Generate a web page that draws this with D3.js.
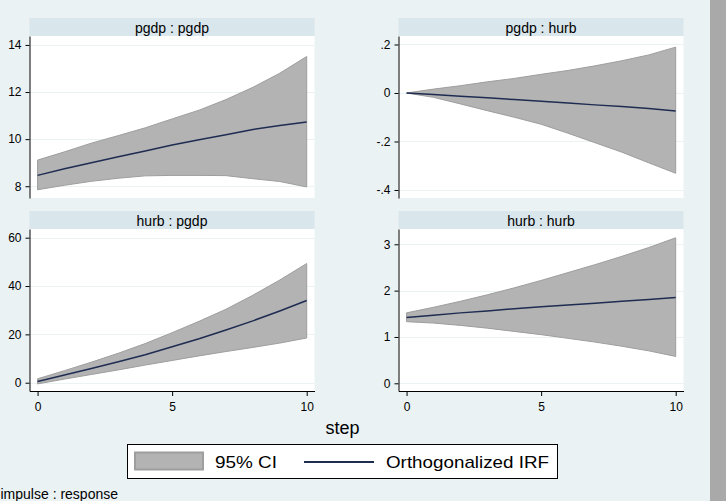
<!DOCTYPE html>
<html>
<head>
<meta charset="utf-8">
<script src="https://cdn.jsdelivr.net/npm/d3@7"></script>
<style>
  html, body { margin: 0; padding: 0; background: #eaf2f3; }
  svg { display: block; }
  text { font-family: "Liberation Sans", Arial, sans-serif; fill: #000; }
</style>
</head>
<body>
<svg id="chart" width="726" height="501"></svg>
<script>
// ---------------- data ----------------
const steps = [0, 1, 2, 3, 4, 5, 6, 7, 8, 9, 10];

const panelTitles = ["pgdp : pgdp", "pgdp : hurb", "hurb : pgdp", "hurb : hurb"];

// pgdp : pgdp
const irfPgdpPgdp   = [8.46, 8.74, 9.00, 9.25, 9.50, 9.75, 9.97, 10.19, 10.41, 10.58, 10.73];
const lowerPgdpPgdp = [7.85, 8.04, 8.21, 8.34, 8.44, 8.46, 8.46, 8.45, 8.32, 8.20, 7.97];
const upperPgdpPgdp = [9.11, 9.46, 9.83, 10.15, 10.48, 10.86, 11.23, 11.68, 12.20, 12.80, 13.51];

// pgdp : hurb
const irfPgdpHurb   = [0, -0.006, -0.013, -0.020, -0.027, -0.034, -0.041, -0.049, -0.056, -0.064, -0.074];
const lowerPgdpHurb = [0, -0.018, -0.045, -0.073, -0.100, -0.129, -0.166, -0.205, -0.244, -0.288, -0.331];
const upperPgdpHurb = [0, 0.016, 0.030, 0.046, 0.060, 0.077, 0.093, 0.112, 0.133, 0.157, 0.189];

// hurb : pgdp
const irfHurbPgdp   = [0.5, 3.2, 5.9, 8.7, 11.6, 14.9, 18.2, 21.8, 25.6, 29.7, 34.0];
const lowerHurbPgdp = [-0.5, 1.5, 3.4, 5.3, 7.3, 9.2, 11.1, 12.9, 14.6, 16.4, 18.5];
const upperHurbPgdp = [1.6, 5.0, 8.5, 12.2, 16.2, 20.7, 25.4, 30.4, 36.2, 42.5, 49.3];

// hurb : hurb
const irfHurbHurb   = [1.42, 1.47, 1.52, 1.56, 1.61, 1.65, 1.69, 1.73, 1.77, 1.81, 1.85];
const lowerHurbHurb = [1.33, 1.30, 1.25, 1.19, 1.12, 1.05, 0.97, 0.89, 0.80, 0.70, 0.58];
const upperHurbHurb = [1.52, 1.64, 1.77, 1.91, 2.06, 2.22, 2.39, 2.56, 2.74, 2.93, 3.14];

// axes
const xDomain = [-0.3, 10.29];
const xTicks = [0, 5, 10];
const xTickLabels = ["0", "5", "10"];

const yTicksPgdpPgdp = [8, 10, 12, 14];
const yLabelsPgdpPgdp = ["8", "10", "12", "14"];
const yDomainPgdpPgdp = [7.5, 14.38];

const yTicksPgdpHurb = [-0.4, -0.2, 0, 0.2];
const yLabelsPgdpHurb = ["-.4", "-.2", "0", ".2"];
const yDomainPgdpHurb = [-0.433, 0.235];

const yTicksHurbPgdp = [0, 20, 40, 60];
const yLabelsHurbPgdp = ["0", "20", "40", "60"];
const yDomainHurbPgdp = [-3.43, 63.6];

const yTicksHurbHurb = [0, 1, 2, 3];
const yLabelsHurbHurb = ["0", "1", "2", "3"];
const yDomainHurbHurb = [-0.166, 3.33];

const xTitle = "step";
const legendLabels = ["95% CI", "Orthogonalized IRF"];
const noteText = "impulse : response";

// ---------------- drawing ----------------
const svg = d3.select("#chart");
const W = 726, H = 501;

const C = {
  bg: "#eaf2f3",
  strip: "#d9e6eb",
  grid: "#eaf2f3",
  ci: "#b3b3b3",
  ciEdge: "#9e9e9e",
  irf: "#1f2c52",
  side: "#a9a9a9"
};

svg.append("rect").attr("x", 0).attr("y", 0).attr("width", W).attr("height", H).attr("fill", C.bg);
svg.append("rect").attr("x", 710).attr("y", 0).attr("width", 16).attr("height", H).attr("fill", C.side);

const panels = [
  {title: panelTitles[0], irf: irfPgdpPgdp, lo: lowerPgdpPgdp, hi: upperPgdpPgdp,
   ticks: yTicksPgdpPgdp, labels: yLabelsPgdpPgdp, dom: yDomainPgdpPgdp, col: 0, row: 0},
  {title: panelTitles[1], irf: irfPgdpHurb, lo: lowerPgdpHurb, hi: upperPgdpHurb,
   ticks: yTicksPgdpHurb, labels: yLabelsPgdpHurb, dom: yDomainPgdpHurb, col: 1, row: 0},
  {title: panelTitles[2], irf: irfHurbPgdp, lo: lowerHurbPgdp, hi: upperHurbPgdp,
   ticks: yTicksHurbPgdp, labels: yLabelsHurbPgdp, dom: yDomainHurbPgdp, col: 0, row: 1},
  {title: panelTitles[3], irf: irfHurbHurb, lo: lowerHurbHurb, hi: upperHurbHurb,
   ticks: yTicksHurbHurb, labels: yLabelsHurbHurb, dom: yDomainHurbHurb, col: 1, row: 1}
];

const colX = [29.5, 398.5];
const rowY = [18, 211];
const stripH = 18;
const plotW = 285, plotH = 162;

panels.forEach(p => {
  const x0 = colX[p.col];
  const top = rowY[p.row];
  const pTop = top + stripH;
  const pBot = pTop + plotH;

  const x = d3.scaleLinear().domain(xDomain).range([x0, x0 + plotW]);
  const y = d3.scaleLinear().domain(p.dom).range([pBot, pTop]);

  const g = svg.append("g");

  // strip
  g.append("rect").attr("x", x0).attr("y", top).attr("width", plotW).attr("height", stripH).attr("fill", C.strip);
  g.append("text").attr("x", x0 + plotW / 2).attr("y", top + stripH / 2 + 1)
    .attr("text-anchor", "middle").attr("dominant-baseline", "central")
    .style("font-size", "14px").text(p.title);

  // plot region
  g.append("rect").attr("x", x0).attr("y", pTop).attr("width", plotW).attr("height", plotH).attr("fill", "#fff");

  // grid
  g.selectAll("line.grid").data(p.ticks).enter().append("line")
    .attr("x1", x0).attr("x2", x0 + plotW)
    .attr("y1", d => Math.round(y(d)) + 0.5).attr("y2", d => Math.round(y(d)) + 0.5)
    .attr("stroke", C.grid).attr("stroke-width", 1);

  // CI area
  const area = d3.area()
    .x((d, i) => x(steps[i]))
    .y0((d, i) => y(p.lo[i]))
    .y1((d, i) => y(p.hi[i]));
  g.append("path").datum(steps).attr("d", area)
    .attr("fill", C.ci).attr("stroke", C.ciEdge).attr("stroke-width", 1);

  // IRF line
  const line = d3.line().x((d, i) => x(steps[i])).y((d, i) => y(p.irf[i]));
  g.append("path").datum(steps).attr("d", line)
    .attr("fill", "none").attr("stroke", C.irf).attr("stroke-width", 1.5);

  // y axis
  const ya = g.append("g").attr("transform", `translate(${x0},0)`)
    .call(d3.axisLeft(y).tickValues(p.ticks).tickFormat((d, i) => p.labels[i])
      .tickSizeInner(4).tickSizeOuter(0).tickPadding(4));
  ya.select(".domain").attr("stroke", "#000");
  ya.selectAll(".tick line").attr("stroke", "#000");
  ya.selectAll("text").style("font-size", "12px").style("font-family", '"Liberation Sans", Arial, sans-serif').attr("fill", "#000");

  // x axis (bottom row only)
  if (p.row === 1) {
    const xa = g.append("g").attr("transform", `translate(0,${pBot})`)
      .call(d3.axisBottom(x).tickValues(xTicks).tickFormat((d, i) => xTickLabels[i])
        .tickSizeInner(5).tickSizeOuter(0).tickPadding(6));
    xa.select(".domain").attr("stroke", "#000");
    xa.selectAll(".tick line").attr("stroke", "#000");
    xa.selectAll("text").style("font-size", "12px").style("font-family", '"Liberation Sans", Arial, sans-serif').attr("fill", "#000");
  }
});

// x title
svg.append("text").attr("x", 342.5).attr("y", 428).attr("text-anchor", "middle")
  .attr("dominant-baseline", "central").style("font-size", "18px").text(xTitle);

// legend
const lg = svg.append("g");
lg.append("rect").attr("x", 127.5).attr("y", 444.5).attr("width", 430).attr("height", 34)
  .attr("fill", "#fff").attr("stroke", "#000").attr("stroke-width", 1);
lg.append("rect").attr("x", 135).attr("y", 452.5).attr("width", 68).attr("height", 17)
  .attr("fill", C.ci).attr("stroke", C.ciEdge).attr("stroke-width", 2);
lg.append("text").attr("x", 215).attr("y", 462).attr("dominant-baseline", "central")
  .style("font-size", "17px").attr("textLength", 62).attr("lengthAdjust", "spacingAndGlyphs")
  .text(legendLabels[0]);
lg.append("line").attr("x1", 304).attr("x2", 374).attr("y1", 462).attr("y2", 462)
  .attr("stroke", C.irf).attr("stroke-width", 2);
lg.append("text").attr("x", 386).attr("y", 462).attr("dominant-baseline", "central")
  .style("font-size", "17px").attr("textLength", 163).attr("lengthAdjust", "spacingAndGlyphs")
  .text(legendLabels[1]);

// note
svg.append("text").attr("x", 0.5).attr("y", 494).attr("dominant-baseline", "central")
  .style("font-size", "14px").text(noteText);
</script>
</body>
</html>
